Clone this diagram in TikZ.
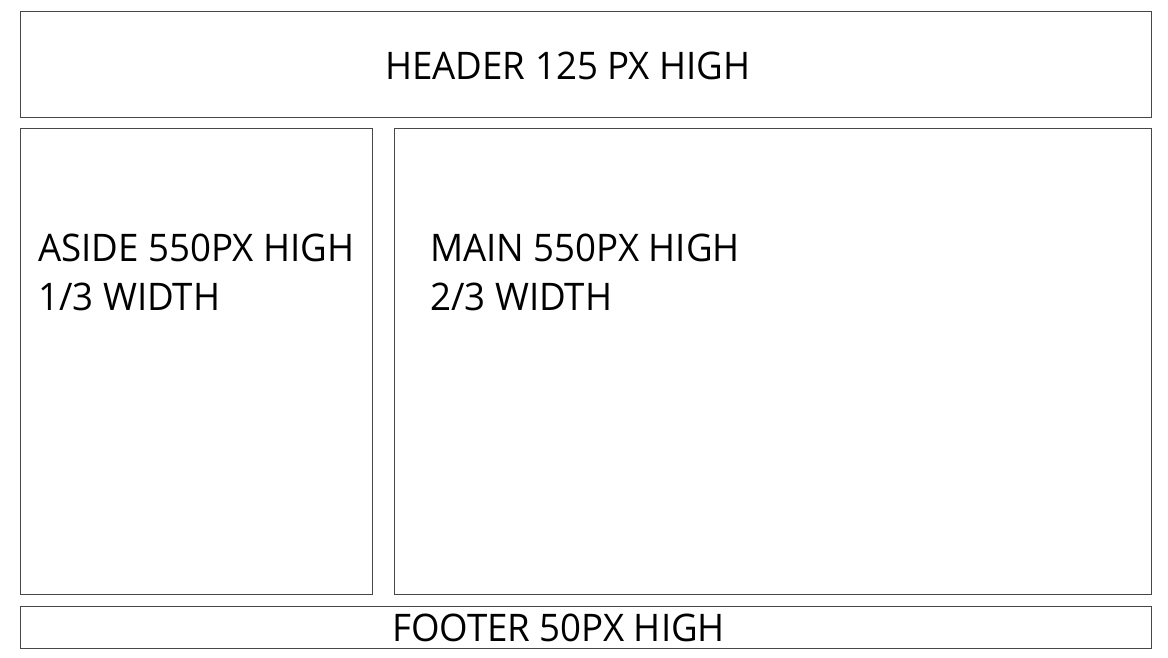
\documentclass[tikz,border=0pt]{standalone}
\usepackage{fontspec}
\setmainfont{Open Sans}[FakeStretch=0.965]
\begin{document}
\begin{tikzpicture}[x=1pt,y=1pt,
  panel/.style={draw=black!72,line width=1.1pt,anchor=south west,inner sep=0pt},
  label/.style={font=\fontsize{38}{46}\selectfont,text=black,inner sep=0pt,anchor=base west}]
\useasboundingbox[fill=white] (0,0) rectangle (1168,657);
\node[panel,minimum width=1131pt,minimum height=106pt] (header) at (20,539) {};
\node[panel,minimum width=352pt,minimum height=466pt] (aside) at (20,62) {};
\node[panel,minimum width=757pt,minimum height=466pt] (main) at (394,62) {};
\node[panel,minimum width=1131pt,minimum height=42pt] (footer) at (20,8) {};
\node[label] (htext) at (385,577) {HEADER 125 PX HIGH};
\node[label] (a1) at (38,395) {ASIDE 550PX HIGH};
\node[label] (a2) at (38,346) {1/3 WIDTH};
\node[label] (m1) at (430,395) {MAIN 550PX HIGH};
\node[label] (m2) at (430,346) {2/3 WIDTH};
\node[label] (ftext) at (392,16) {FOOTER 50PX HIGH};
\end{tikzpicture}
\end{document}
